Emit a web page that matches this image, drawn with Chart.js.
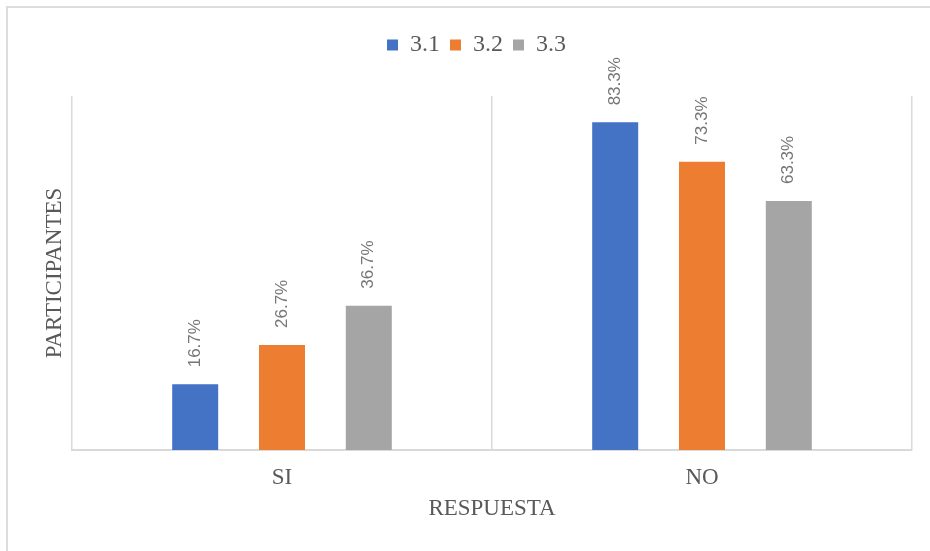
<!DOCTYPE html>
<html>
<head>
<meta charset="utf-8">
<script src="https://cdn.jsdelivr.net/npm/chart.js@4"></script>
<style>
  html, body { margin: 0; padding: 0; background: #fff; }
  #wrap { position: relative; width: 930px; height: 551px; overflow: hidden; }
  #frame { position: absolute; left: 6px; top: 6px; width: 1000px; height: 1000px; border: 2px solid #dcdcdc; box-sizing: border-box; }
  canvas { position: absolute; left: 0; top: 0; }
</style>
</head>
<body>
<div id="wrap">
  <div id="frame"></div>
  <canvas id="chart" width="930" height="551"></canvas>
</div>
<script>
const categories = ['SI', 'NO'];
const seriesNames = ['3.1', '3.2', '3.3'];
const values31 = [16.7, 83.3];
const values32 = [26.7, 73.3];
const values33 = [36.7, 63.3];
const colors = ['#4472C4', '#ED7D31', '#A5A5A5'];

const serif = '"Liberation Serif", "Times New Roman", serif';

// rotated value labels above each bar
const barLabels = {
  id: 'barLabels',
  afterDatasetsDraw(chart) {
    const ctx = chart.ctx;
    ctx.save();
    ctx.font = '17px "Liberation Sans", Arial, sans-serif';
    ctx.fillStyle = '#767676';
    ctx.textAlign = 'left';
    ctx.textBaseline = 'middle';
    chart.data.datasets.forEach((ds, i) => {
      chart.getDatasetMeta(i).data.forEach((bar, j) => {
        ctx.save();
        ctx.translate(bar.x, bar.y - 17);
        ctx.rotate(-Math.PI / 2);
        ctx.fillText(ds.data[j].toFixed(1) + '%', 0, 0);
        ctx.restore();
      });
    });
    ctx.restore();
  }
};

// extra room under the legend
const legendGap = {
  id: 'legendGap',
  beforeInit(chart) {
    const fit = chart.legend.fit;
    chart.legend.fit = function () {
      fit.bind(chart.legend)();
      this.height += 29;
    };
  }
};

new Chart(document.getElementById('chart'), {
  type: 'bar',
  data: {
    labels: categories,
    datasets: [
      { label: seriesNames[0], data: values31, backgroundColor: colors[0] },
      { label: seriesNames[1], data: values32, backgroundColor: colors[1] },
      { label: seriesNames[2], data: values33, backgroundColor: colors[2] }
    ]
  },
  options: {
    responsive: false,
    animation: false,
    categoryPercentage: 0.62,
    barPercentage: 0.53,
    layout: { padding: { left: 41, right: 18, top: 23, bottom: 24 } },
    plugins: {
      tooltip: { enabled: false },
      legend: {
        position: 'top',
        labels: {
          boxWidth: 11,
          boxHeight: 11,
          padding: 10,
          color: '#595959',
          font: { family: serif, size: 24 }
        }
      }
    },
    scales: {
      x: {
        grid: { color: '#d9d9d9', drawTicks: false, lineWidth: 1.5 },
        border: { color: '#d9d9d9', width: 2 },
        ticks: { color: '#595959', padding: 14, font: { family: serif, size: 23 } },
        title: { display: true, text: 'RESPUESTA', color: '#595959', font: { family: serif, size: 23 } },
        afterFit(scale) { scale.height = 77; }
      },
      y: {
        min: 0,
        max: 90,
        grid: { display: false },
        border: { display: false },
        ticks: { display: false },
        title: { display: true, text: 'PARTICIPANTES', color: '#595959', padding: 0, font: { family: serif, size: 23 } },
        afterFit(scale) { scale.width = 31; }
      }
    }
  },
  plugins: [barLabels, legendGap]
});
</script>
</body>
</html>
